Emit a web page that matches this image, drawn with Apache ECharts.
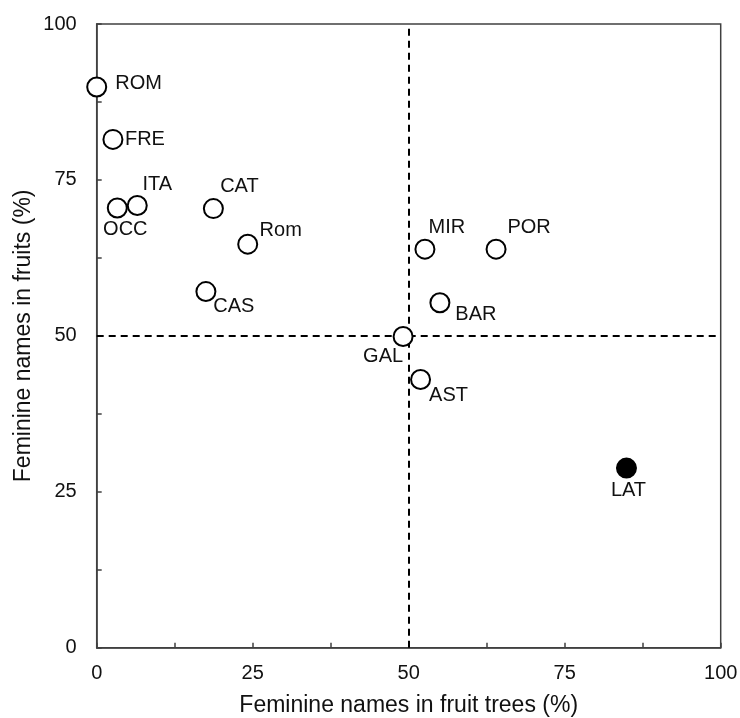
<!DOCTYPE html>
<html>
<head>
<meta charset="utf-8">
<script src="https://cdn.jsdelivr.net/npm/echarts@6/dist/echarts.min.js"></script>
<style>
html,body{margin:0;padding:0;background:#fff;}
#chart{width:740px;height:718px;}
</style>
</head>
<body>
<div id="chart"></div>
<script>
// ---- data ----
const names = ['ROM','FRE','OCC','ITA','CAT','Rom','CAS','MIR','POR','BAR','GAL','AST','LAT'];
const treesPct = [0, 2.6, 3.3, 6.5, 18.7, 24.2, 17.5, 52.6, 64.0, 55.0, 49.1, 51.9, 84.9];
const fruitsPct = [89.9, 81.5, 70.5, 70.9, 70.4, 64.7, 57.1, 63.9, 63.9, 55.3, 49.9, 43.0, 28.8];
const xTicks = [0, 25, 50, 75, 100];
const yTicks = [0, 25, 50, 75, 100];
const refX = 50;
const refY = 50;
const xTitle = 'Feminine names in fruit trees (%)';
const yTitle = 'Feminine names in fruits (%)';

// ---- style ----
const labelOffsets = {
  ROM:[42,-4], FRE:[32,0], OCC:[8,21], ITA:[20,-21], CAT:[26,-22], Rom:[33,-14],
  CAS:[28,15], MIR:[22,-22], POR:[33,-22], BAR:[36,12], GAL:[-20,20], AST:[28,16], LAT:[2,22]
};
const filledNames = ['LAT'];
const font = 'Liberation Sans, Arial, sans-serif';
const txt = '#111';

const seriesData = names.map((n, i) => ({
  name: n,
  value: [treesPct[i], fruitsPct[i]],
  itemStyle: {
    color: filledNames.includes(n) ? '#000' : '#fff',
    borderColor: '#000',
    borderWidth: 2,
    opacity: 1
  },
  label: {
    show: true,
    formatter: n,
    position: 'inside',
    offset: labelOffsets[n],
    align: 'center',
    verticalAlign: 'middle',
    fontSize: 20,
    fontFamily: font,
    color: txt,
    opacity: 1
  }
}));

function axisCommon(ticks, title, gap) {
  return {
    type: 'value',
    min: 0, max: 100, interval: 12.5,
    name: title,
    nameLocation: 'middle',
    nameGap: gap,
    nameMoveOverlap: false,
    nameTextStyle: {fontSize: 23, fontFamily: font, color: txt},
    axisLine: {show: true, onZero: false, lineStyle: {color: '#404040', width: 1.5}},
    axisTick: {show: true, inside: true, length: 5, lineStyle: {color: '#404040', width: 1.5}},
    axisLabel: {
      fontSize: 20, fontFamily: font, color: txt,
      formatter: v => ticks.includes(v) ? String(v) : ''
    },
    splitLine: {show: false}
  };
}

const chart = echarts.init(document.getElementById('chart'));
const xAxis = axisCommon(xTicks, xTitle, 46);
xAxis.axisLabel.margin = 16;
const yAxis = axisCommon(yTicks, yTitle, 62);
yAxis.axisLabel.margin = 20;

chart.setOption({
  animation: false,
  backgroundColor: '#fff',
  grid: {
    left: 96.7, right: 19.3, top: 24, bottom: 70.3,
    containLabel: false,
    outerBoundsMode: 'none',
    show: true, borderColor: '#404040', borderWidth: 1.5, backgroundColor: 'transparent'
  },
  xAxis: xAxis,
  yAxis: yAxis,
  series: [{
    type: 'scatter',
    symbol: 'circle',
    symbolSize: 19,
    data: seriesData,
    z: 3,
    emphasis: {disabled: true},
    markLine: {
      silent: true,
      symbol: 'none',
      label: {show: false},
      lineStyle: {color: '#000', width: 2, type: [7, 5], opacity: 1},
      data: [{xAxis: refX}, {yAxis: refY}],
      z: 1
    }
  }]
});
</script>
</body>
</html>
